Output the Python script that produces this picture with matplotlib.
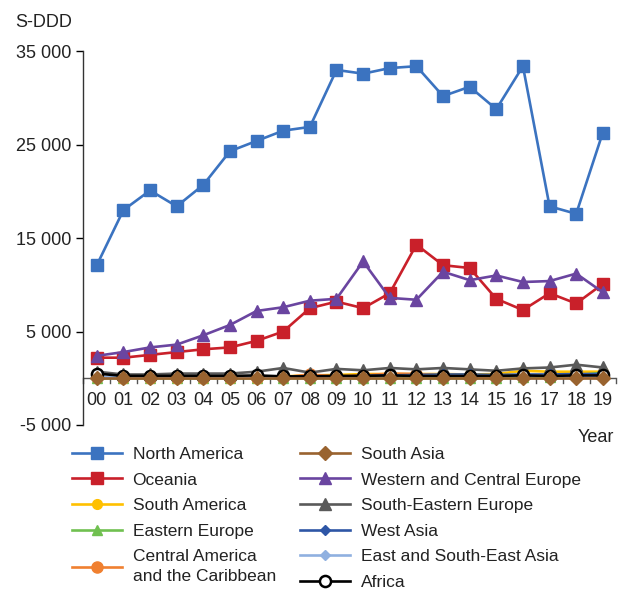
import matplotlib.pyplot as plt
import numpy as np

plt.rcParams['font.family'] = ['Liberation Sans', 'DejaVu Sans']

years = ['00', '01', '02', '03', '04', '05', '06', '07', '08', '09',
         '10', '11', '12', '13', '14', '15', '16', '17', '18', '19']

north_america = [12100, 18000, 20100, 18400, 20700, 24300, 25400, 26500, 26900, 33000,
                 32600, 33200, 33400, 30200, 31200, 28800, 33400, 18400, 17600, 26300]
oceania = [2200, 2200, 2500, 2800, 3100, 3300, 4000, 5000, 7500, 8200,
           7500, 9100, 14300, 12100, 11800, 8500, 7300, 9100, 8000, 10100]
south_america = [100, 100, 100, 150, 150, 150, 150, 200, 300, 350,
                 450, 450, 450, 450, 400, 450, 800, 700, 700, 700]
eastern_europe = [0, 0, 0, 0, 0, 0, 0, 0, 0, 0,
                  0, 0, 0, 0, 0, 0, 100, 100, 300, 600]
central_america = [100, 50, 50, 50, 50, 50, 50, 100, 400, 200,
                   300, 500, 450, 300, 200, 200, 300, 300, 200, 200]
south_asia = [50, 50, 50, 50, 50, 50, 50, 50, 50, 50,
              50, 50, 50, 50, 50, 50, 50, 50, 50, 50]
west_central_europe = [2400, 2800, 3300, 3600, 4600, 5700, 7200, 7600, 8300, 8500,
                       12500, 8600, 8400, 11400, 10500, 11000, 10300, 10400, 11200, 9200]
south_eastern_europe = [700, 400, 400, 500, 500, 500, 700, 1100, 600, 1000,
                        850, 1100, 950, 1100, 950, 800, 1050, 1150, 1450, 1150]
west_asia = [50, 50, 50, 50, 50, 50, 50, 50, 100, 150,
             250, 300, 350, 400, 400, 350, 400, 400, 450, 450]
east_asia = [100, 100, 100, 100, 100, 100, 100, 150, 200, 200,
             200, 250, 250, 250, 250, 250, 250, 250, 250, 250]
africa = [500, 250, 250, 250, 250, 250, 300, 200, 200, 250,
          250, 300, 250, 250, 250, 250, 300, 250, 300, 300]

fig = plt.figure(figsize=(6.23, 5.96), dpi=100)
ax = fig.add_axes([0.134, 0.287, 0.855, 0.627])
x = np.arange(len(years))

lw = 1.9
h1 = []
h2 = []
h1.append(ax.plot(x, north_america, color='#3b73c0', lw=lw, marker='s', ms=9, zorder=5,
                  label='North America')[0])
h1.append(ax.plot(x, oceania, color='#c9202a', lw=lw, marker='s', ms=9, zorder=4,
                  label='Oceania')[0])
h1.append(ax.plot(x, south_america, color='#ffc000', lw=lw, marker='o', ms=7, zorder=3,
                  label='South America')[0])
h1.append(ax.plot(x, eastern_europe, color='#70c050', lw=lw, marker='^', ms=7, zorder=3,
                  label='Eastern Europe')[0])
h1.append(ax.plot(x, central_america, color='#f08030', lw=lw, marker='o', ms=8, zorder=3,
                  label='Central America\nand the Caribbean')[0])
h2.append(ax.plot(x, south_asia, color='#99632f', lw=lw, marker='D', ms=7, zorder=6,
                  label='South Asia')[0])
h2.append(ax.plot(x, west_central_europe, color='#6a45a0', lw=lw, marker='^', ms=9, zorder=4,
                  label='Western and Central Europe')[0])
h2.append(ax.plot(x, south_eastern_europe, color='#5a5a5a', lw=lw, marker='^', ms=9, zorder=3,
                  label='South-Eastern Europe')[0])
h2.append(ax.plot(x, west_asia, color='#2e56a6', lw=lw, marker='D', ms=5, zorder=3,
                  label='West Asia')[0])
h2.append(ax.plot(x, east_asia, color='#8fb0e0', lw=lw, marker='D', ms=5, zorder=3,
                  label='East and South-East Asia')[0])
h2.append(ax.plot(x, africa, color='black', lw=lw, marker='o', ms=8, mfc='white',
                  mew=1.8, zorder=5, label='Africa')[0])

ax.set_xlim(-0.5, 19.5)
ax.set_ylim(-5000, 35000)
ax.set_yticks([-5000, 5000, 15000, 25000, 35000])
ax.set_yticklabels(['-5 000', '5 000', '15 000', '25 000', '35 000'])
ax.tick_params(axis='y', labelsize=13, length=5, width=1, direction='out',
               labelcolor='#222222')

for s in ['top', 'right', 'bottom']:
    ax.spines[s].set_visible(False)
ax.spines['left'].set_linewidth(1)
ax.spines['left'].set_color('#333333')
ax.axhline(0, color='#555555', lw=1, zorder=1)

# category labels sit just under the zero line, ticks between categories
ax.set_xticks([])
for i, yr in enumerate(years):
    ax.text(i, -1450, yr, ha='center', va='top', fontsize=13, color='#222222')
for b in np.arange(-0.5, 20, 1.0):
    ax.plot([b, b], [0, -550], color='#555555', lw=1, zorder=1, clip_on=False)

fig.text(0.025, 0.963, 'S-DDD', fontsize=13, ha='left', va='center', color='#222222')
fig.text(0.985, 0.266, 'Year', fontsize=13, ha='right', va='center', color='#222222')

leg1 = fig.legend(handles=h1, loc='upper left', bbox_to_anchor=(0.104, 0.262),
                  frameon=False, fontsize=12.5, handlelength=2.9, labelspacing=0.6,
                  borderaxespad=0, handletextpad=0.6, labelcolor='#222222')
leg2 = fig.legend(handles=h2, loc='upper left', bbox_to_anchor=(0.470, 0.262),
                  frameon=False, fontsize=12.5, handlelength=2.9, labelspacing=0.6,
                  borderaxespad=0, handletextpad=0.6, labelcolor='#222222')
leg1.get_texts()[-1].set_linespacing(1.45)

fig.savefig('out.png', dpi=100)
